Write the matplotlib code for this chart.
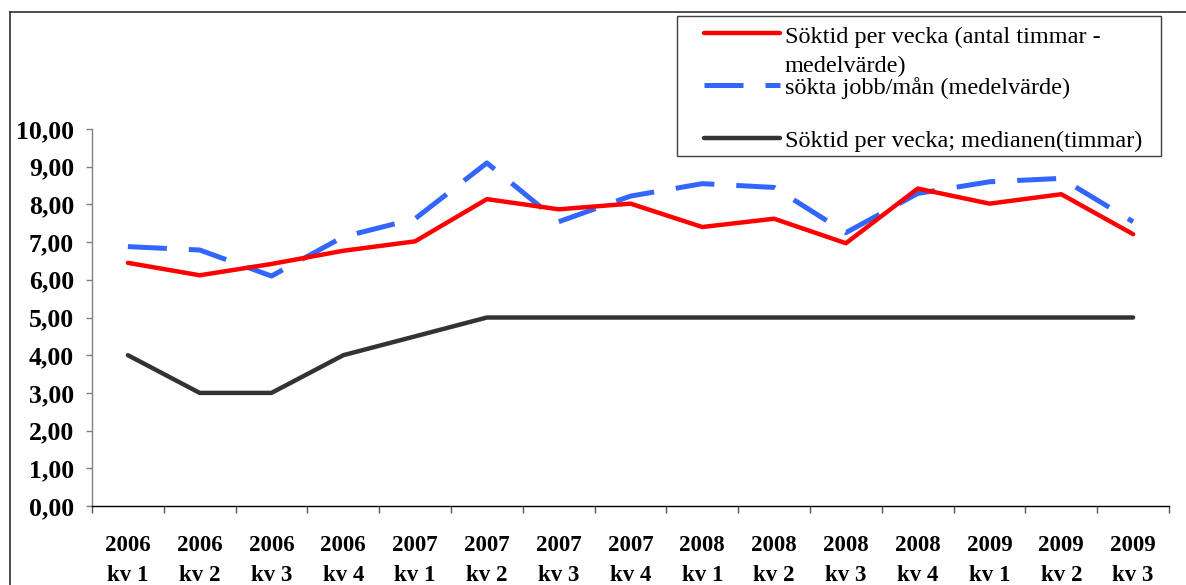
import matplotlib
matplotlib.use("Agg")
import matplotlib.pyplot as plt
from matplotlib.lines import Line2D
from matplotlib.patches import Rectangle
import numpy as np

plt.rcParams['font.family'] = ['Liberation Serif', 'DejaVu Serif']

years = ["2006", "2006", "2006", "2006", "2007", "2007", "2007", "2007",
         "2008", "2008", "2008", "2008", "2009", "2009", "2009"]
quarters = ["kv 1", "kv 2", "kv 3", "kv 4", "kv 1", "kv 2", "kv 3", "kv 4",
            "kv 1", "kv 2", "kv 3", "kv 4", "kv 1", "kv 2", "kv 3"]
soktid_medel = [6.45, 6.12, 6.42, 6.77, 7.02, 8.14, 7.87, 8.02,
                7.40, 7.62, 6.97, 8.42, 8.02, 8.27, 7.21]
sokta_jobb = [6.88, 6.79, 6.10, 7.14, 7.62, 9.10, 7.54, 8.22,
              8.55, 8.45, 7.25, 8.29, 8.60, 8.69, 7.54]
soktid_median = [4.0, 3.0, 3.0, 4.0, 4.5, 5.0, 5.0, 5.0,
                 5.0, 5.0, 5.0, 5.0, 5.0, 5.0, 5.0]
labels = ["Söktid per vecka (antal timmar -\nmedelvärde)",
          "sökta jobb/mån (medelvärde)",
          "Söktid per vecka; medianen(timmar)"]
yticks = [0, 1, 2, 3, 4, 5, 6, 7, 8, 9, 10]

W, H = 1186, 585
fig = plt.figure(figsize=(W / 100, H / 100), dpi=100)
ax = fig.add_axes([92 / W, 1 - 506 / H, (1169 - 92) / W, (506 - 129) / H])

x = np.arange(len(years))
RED, BLUE, GREY = "#FF0000", "#3366FF", "#333333"
ax.plot(x, soktid_medel, color=RED, lw=3.2, solid_capstyle='round', solid_joinstyle='round', zorder=3)
ax.plot(x, sokta_jobb, color=BLUE, lw=3.6, dashes=(7.8, 4.4), dash_capstyle='butt', zorder=2)
ax.plot(x, soktid_median, color=GREY, lw=3.2, solid_capstyle='round', solid_joinstyle='round', zorder=3)

ax.set_xlim(-0.5, len(years) - 0.5)
ax.set_ylim(0, 10)
ax.set_yticks(yticks)
ax.set_yticklabels([f"{v:.2f}".replace(".", ",") for v in yticks],
                   fontsize=18.5, fontweight='bold')
ax.tick_params(axis='y', length=4.5, width=1, color='#808080', pad=8.5, direction='out')

ax.set_xticks(x)
ax.set_xticklabels([f"{y}\n{q}" for y, q in zip(years, quarters)],
                   fontsize=16.5, fontweight='bold', linespacing=1.55)
ax.tick_params(axis='x', which='major', length=0, pad=21)
ax.set_xticks(np.arange(-0.5, len(years), 1.0), minor=True)
ax.tick_params(axis='x', which='minor', length=5, width=1, color='#555555', direction='out')

for s in ['top', 'right']:
    ax.spines[s].set_visible(False)
ax.spines['left'].set_color('#808080')
ax.spines['bottom'].set_color('black')
ax.spines['left'].set_linewidth(1)
ax.spines['bottom'].set_linewidth(1)

def fx(px):
    return px / W

def fy(py):
    return 1 - py / H

# outer chart frame (partially visible)
fig.add_artist(Line2D([fx(10), fx(10)], [fy(12), 0], transform=fig.transFigure, color='#303030', lw=1.2))
fig.add_artist(Line2D([fx(10), 1], [fy(12), fy(12)], transform=fig.transFigure, color='#303030', lw=1.2))

# legend box
fig.add_artist(Rectangle((fx(677), fy(156)), fx(1161) - fx(677), fy(16) - fy(156),
                         transform=fig.transFigure, facecolor='white', edgecolor='#404040', lw=1, zorder=5))
leg_y = [33, 85, 138]
styles = [dict(color=RED, lw=3.2, solid_capstyle='round'),
          dict(color=BLUE, lw=3.6, dashes=(7.8, 4.4), dash_capstyle='butt'),
          dict(color=GREY, lw=3.2, solid_capstyle='round')]
for yy, st in zip(leg_y, styles):
    fig.add_artist(Line2D([fx(704), fx(780)], [fy(yy), fy(yy)], transform=fig.transFigure, zorder=6, **st))
text_rows = [(labels[0].split("\n")[0], 43), (labels[0].split("\n")[1], 72),
             (labels[1], 94), (labels[2], 147)]
for t, by in text_rows:
    fig.text(fx(785), fy(by), t, fontsize=17.5, va='baseline', ha='left', zorder=7)

fig.savefig("out.png", dpi=100)
